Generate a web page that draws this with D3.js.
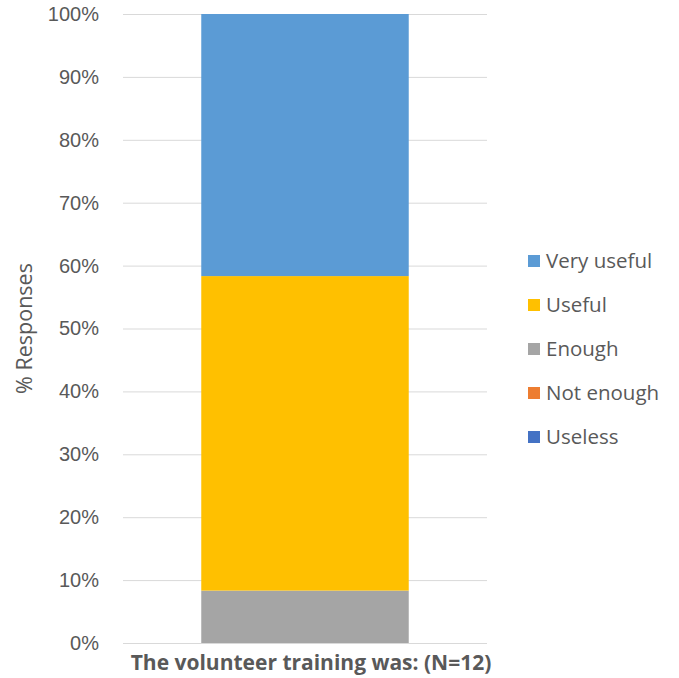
<!DOCTYPE html>
<html>
<head>
<meta charset="utf-8">
<script src="https://cdn.jsdelivr.net/npm/d3@7"></script>
<style>
  html, body { margin: 0; padding: 0; background: #fff; }
  svg { display: block; font-family: "Open Sans", "Noto Sans", sans-serif; }
</style>
</head>
<body>
<svg id="chart" width="679" height="678"></svg>
<script>
// Responses to "The volunteer training was:" (N=12), as share of respondents
const category = "The volunteer training was: (N=12)";
const seriesNames = ["Useless", "Not enough", "Enough", "Useful", "Very useful"];
const seriesValues = [0, 0, 1 / 12, 6 / 12, 5 / 12];
const seriesColors = ["#4472C4", "#ED7D31", "#A5A5A5", "#FFC000", "#5B9BD5"];
const tickValues = [0, 0.1, 0.2, 0.3, 0.4, 0.5, 0.6, 0.7, 0.8, 0.9, 1.0];
const legendOrder = ["Very useful", "Useful", "Enough", "Not enough", "Useless"];

const svg = d3.select("#chart");
const margin = { left: 123, right: 192, top: 14, bottom: 35 };
const width = 679, height = 678;

const x = d3.scaleBand()
  .domain([category])
  .range([margin.left, width - margin.right])
  .paddingInner(0.43).paddingOuter(0.215);

const y = d3.scaleLinear()
  .domain([0, 1])
  .range([height - margin.bottom, margin.top]);

// Gridlines and tick labels
const yAxis = d3.axisLeft(y)
  .tickValues(tickValues)
  .tickFormat(d3.format(".0%"))
  .tickSize(-(width - margin.left - margin.right))
  .tickPadding(24);

const gy = svg.append("g")
  .attr("transform", `translate(${margin.left},0)`)
  .call(yAxis);
gy.select(".domain").remove();
gy.selectAll(".tick line").attr("stroke", "#d9d9d9").attr("stroke-width", 1);
gy.selectAll(".tick text")
  .attr("fill", "#595959")
  .attr("font-size", 20);

// Stacked bar
let cum = 0;
const stacked = seriesNames.map((name, i) => {
  const y0 = cum;
  cum += seriesValues[i];
  return { name, y0, y1: cum, color: seriesColors[i] };
});

svg.append("g").selectAll("rect")
  .data(stacked.filter(d => d.y1 > d.y0))
  .join("rect")
  .attr("x", x(category))
  .attr("width", x.bandwidth())
  .attr("y", d => y(d.y1))
  .attr("height", d => y(d.y0) - y(d.y1))
  .attr("fill", d => d.color);

// Category label
svg.append("text")
  .attr("x", 311)
  .attr("y", 670)
  .attr("text-anchor", "middle")
  .attr("font-size", 21)
  .attr("font-weight", "bold")
  .attr("fill", "#595959")
  .text(category);

// Y axis title
svg.append("text")
  .attr("transform", `translate(32,${(y(0) + y(1)) / 2}) rotate(-90)`)
  .attr("text-anchor", "middle")
  .attr("font-size", 21.5)
  .attr("fill", "#595959")
  .text("% Responses");

// Legend
const legendY = d3.scalePoint()
  .domain(legendOrder)
  .range([261, 437]);

const lg = svg.append("g").selectAll("g")
  .data(legendOrder)
  .join("g")
  .attr("transform", d => `translate(528,${legendY(d)})`);

lg.append("rect")
  .attr("x", 0).attr("y", -6)
  .attr("width", 12).attr("height", 12)
  .attr("fill", d => seriesColors[seriesNames.indexOf(d)]);

lg.append("text")
  .attr("x", 18).attr("y", 0)
  .attr("dy", "0.35em")
  .attr("font-size", 20.5)
  .attr("fill", "#595959")
  .text(d => d);
</script>
</body>
</html>
